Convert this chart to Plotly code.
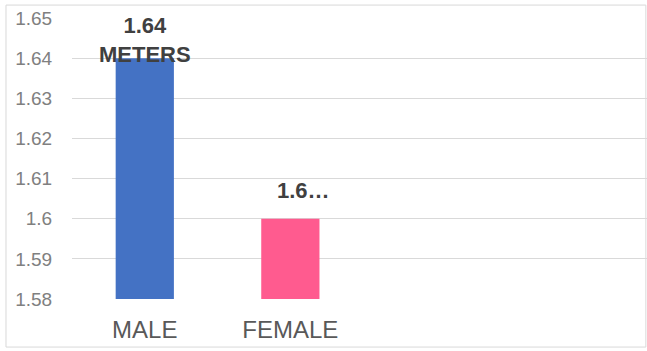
import plotly.graph_objects as go

# Average height by gender (meters)
categories = ["MALE", "FEMALE"]
heights = [1.64, 1.60]
value_labels = ["1.64<br>METERS", "1.6…"]
bar_colors = ["#4472C4", "#FF5B8F"]
y_ticks = [1.58, 1.59, 1.60, 1.61, 1.62, 1.63, 1.64, 1.65]
y_tick_text = ["1.58", "1.59", "1.6", "1.61", "1.62", "1.63", "1.64", "1.65"]

positions = list(range(len(categories)))

fig = go.Figure(
    go.Bar(
        x=positions,
        y=heights,
        width=0.4,
        marker=dict(color=bar_colors, line=dict(width=0)),
        hoverinfo="skip",
    )
)

label_shift = [0, 13]
label_gap = [-11, 14]
for xi, h, txt, dx, dy in zip(positions, heights, value_labels, label_shift, label_gap):
    fig.add_annotation(
        x=xi, y=h, text=f"<b>{txt}</b>", showarrow=False,
        xanchor="center", yanchor="bottom", xshift=dx, yshift=dy,
        font=dict(family="Liberation Sans, Arial, sans-serif", size=22, color="#404040"),
    )

# outer chart border
fig.add_shape(
    type="rect", xref="paper", yref="paper",
    x0=-0.1148, x1=0.998, y0=-0.171, y1=1.046,
    line=dict(color="#D9D9D9", width=1), fillcolor="rgba(0,0,0,0)", layer="below",
)

fig.update_layout(
    width=647, height=351,
    margin=dict(l=72, r=0, t=18, b=52),
    paper_bgcolor="white", plot_bgcolor="white",
    showlegend=False,
    font=dict(family="Liberation Sans, Arial, sans-serif"),
    xaxis=dict(
        range=[-0.5, 3.45],
        tickvals=positions, ticktext=categories,
        showgrid=False, zeroline=False, showline=False,
        ticks="outside", ticklen=9, tickcolor="rgba(0,0,0,0)",
        tickfont=dict(size=24, color="#595959"),
    ),
    yaxis=dict(
        range=[y_ticks[0], y_ticks[-1]],
        tickvals=y_ticks, ticktext=y_tick_text,
        showgrid=True, gridcolor="#D9D9D9", gridwidth=1,
        zeroline=False, showline=False,
        ticks="outside", ticklen=15, tickcolor="rgba(0,0,0,0)",
        tickfont=dict(size=19, color="#808080"),
    ),
)

fig.write_html("out.html")
